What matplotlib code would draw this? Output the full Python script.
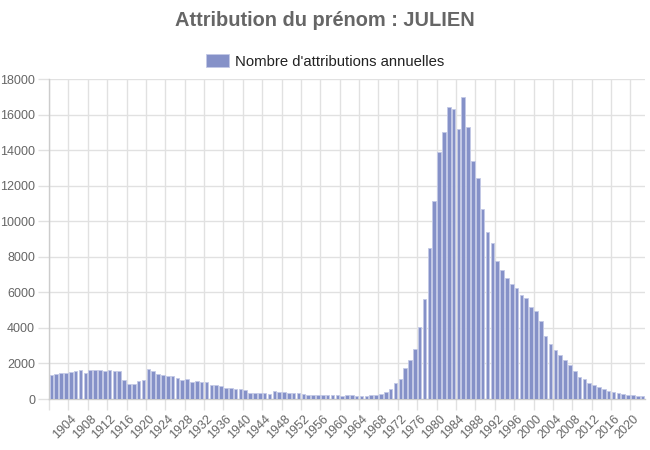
import numpy as np
import matplotlib
matplotlib.use("Agg")
import matplotlib.pyplot as plt

plt.rcParams['font.family'] = ['Liberation Sans', 'DejaVu Sans']

# annees 1900 -> 2022
annees = list(range(1900, 2023))
attributions = [
    # 1900-1909
    1350, 1420, 1460, 1440, 1510, 1570, 1610, 1480, 1610, 1610,
    # 1910-1919
    1610, 1550, 1640, 1590, 1550, 1070, 860, 840, 990, 1070,
    # 1920-1929
    1680, 1570, 1400, 1380, 1310, 1310, 1180, 1070, 1120, 950,
    # 1930-1939
    1010, 935, 950, 770, 790, 730, 620, 600, 560, 540,
    # 1940-1949
    490, 355, 336, 336, 318, 300, 430, 375, 375, 318,
    # 1950-1959
    318, 336, 280, 225, 243, 206, 206, 206, 206, 206,
    # 1960-1969
    187, 215, 200, 187, 187, 190, 215, 235, 310, 400,
    # 1970-1979
    560, 880, 1100, 1740, 2220, 2790, 4075, 5630, 8520, 11120,
    # 1980-1989
    13890, 15050, 16430, 16320, 15220, 17010, 15310, 13400, 12450, 10710,
    # 1990-1999
    9420, 8800, 7760, 7250, 6840, 6450, 6260, 5870, 5680, 5160,
    # 2000-2009
    4950, 4390, 3570, 3120, 2750, 2470, 2210, 1940, 1590, 1230,
    # 2010-2019
    1100, 880, 785, 655, 560, 450, 395, 336, 300, 243,
    # 2020-2022
    206, 170, 165,
]
titre = "Attribution du prénom : JULIEN"
legende = "Nombre d'attributions annuelles"
y_ticks = list(range(0, 18001, 2000))

gris_grille = '#e1e1e1'
gris_texte = '#666666'

fig = plt.figure(figsize=(6.5, 4.5), dpi=100)
ax = fig.add_axes([0.0754, 0.1133, 0.9169, 0.7105])

x = np.arange(len(annees))
ax.bar(x, attributions, width=0.74, color='#8591c8',
       edgecolor='#c3c9e6', linewidth=0.6, label=legende, zorder=3)

ax.set_xlim(-0.5, len(annees) - 0.5)
ax.set_ylim(0, 18000)

# lignes de grille aux bords des categories, tous les 4 ans
bords = [k - 0.5 for k in range(0, len(annees), 4)]
ax.set_xticks(bords)
ax.set_xticklabels([])
centres = [k for k in range(4, len(annees), 4)]
ax.set_xticks(centres, minor=True)
ax.set_xticklabels([str(annees[k]) for k in centres], minor=True,
                   rotation=45, ha='right', rotation_mode='anchor',
                   fontsize=9, color=gris_texte)
ax.tick_params(axis='x', which='major', length=8, color=gris_grille, width=1)
ax.tick_params(axis='x', which='minor', length=0, pad=10)

ax.set_yticks(y_ticks)
ax.set_yticklabels([str(v) for v in y_ticks], fontsize=9, color=gris_texte)
ax.tick_params(axis='y', length=8, color=gris_grille, width=1, pad=2)

ax.grid(True, which='major', color=gris_grille, linewidth=1, zorder=0)
ax.set_axisbelow(True)

for s in ['top', 'right']:
    ax.spines[s].set_visible(False)
for s in ['left', 'bottom']:
    ax.spines[s].set_color('#cccccc')
    ax.spines[s].set_linewidth(1)

fig.text(0.5, 0.955, titre, ha='center', va='center', fontsize=14.4,
         fontweight='bold', color=gris_texte)
fig.legend(loc='center', bbox_to_anchor=(0.5, 0.864), frameon=False,
           fontsize=10.7, handlelength=1.55, handleheight=1.0,
           handletextpad=0.45, labelcolor='#222222')

fig.savefig('out.png', dpi=100)
